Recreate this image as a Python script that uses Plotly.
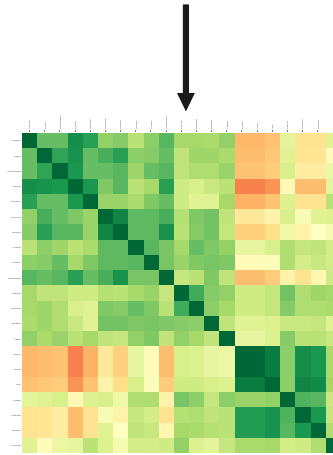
import plotly.graph_objects as go

labels = ["Hungary", "Japan", "Netherlands", "Poland", "Germany", "Denmark", "Sweden",
          "Finland", "Norway", "Switzerland", "Estonia", "Romania", "Bulgaria", "Austria",
          "France", "Spain", "Italy", "Russia", "Portugal", "Sweden", "Slovakia"]

row00 = [10.0, 8.0, 8.0, 9.2, 8.8, 7.3, 7.5, 6.6, 7.4, 8.2, 7.0, 7.0, 6.9, 7.3, 3.2, 3.2, 3.4, 5.7, 4.1, 4.1, 5.8]
row01 = [8.0, 10.0, 8.7, 9.1, 8.0, 8.4, 8.8, 7.4, 7.5, 8.0, 6.5, 7.1, 7.1, 6.9, 3.3, 3.3, 3.5, 5.8, 4.2, 4.2, 4.9]
row02 = [8.0, 8.7, 10.0, 9.0, 8.0, 8.0, 8.2, 7.1, 8.0, 8.2, 6.5, 6.8, 6.8, 7.2, 3.4, 3.4, 3.6, 6.0, 4.4, 4.4, 5.5]
row03 = [9.2, 9.1, 9.0, 10.0, 9.0, 7.6, 8.2, 6.6, 7.0, 8.8, 6.2, 6.0, 6.3, 6.6, 2.3, 2.3, 2.6, 4.8, 3.3, 3.3, 5.6]
row04 = [8.8, 8.0, 8.0, 9.0, 10.0, 7.2, 7.2, 6.9, 7.6, 8.0, 6.2, 5.8, 5.8, 7.0, 3.1, 3.1, 3.4, 5.9, 4.1, 4.1, 6.6]
row05 = [7.3, 8.4, 8.0, 7.6, 7.2, 10.0, 9.4, 8.1, 8.1, 8.4, 6.7, 7.6, 7.8, 6.5, 4.3, 4.3, 4.6, 6.0, 5.2, 5.8, 5.9]
row06 = [7.5, 8.8, 8.2, 8.2, 7.2, 9.4, 10.0, 8.1, 8.1, 9.1, 6.6, 7.5, 7.8, 6.4, 3.7, 3.7, 4.0, 5.4, 4.6, 5.0, 5.3]
row07 = [6.6, 7.4, 7.1, 6.6, 6.9, 8.1, 8.1, 10.0, 8.2, 7.7, 7.0, 8.0, 7.6, 7.3, 5.6, 5.6, 6.0, 6.8, 6.4, 6.5, 6.1]
row08 = [7.4, 7.5, 8.0, 7.0, 7.6, 8.1, 8.1, 8.2, 10.0, 7.7, 7.2, 7.6, 7.7, 7.6, 4.9, 4.9, 5.1, 6.8, 6.1, 6.3, 6.1]
row09 = [8.2, 8.0, 8.2, 8.8, 8.0, 8.4, 9.1, 7.7, 7.7, 10.0, 6.4, 6.6, 7.6, 6.5, 3.3, 3.3, 3.6, 4.6, 4.1, 4.7, 6.2]
row10 = [7.0, 6.5, 6.5, 6.2, 6.2, 6.7, 6.6, 7.0, 7.2, 6.4, 10.0, 8.5, 7.5, 7.3, 6.2, 6.2, 6.4, 7.8, 6.8, 7.1, 7.0]
row11 = [7.0, 7.1, 6.8, 6.0, 5.8, 7.6, 7.5, 8.0, 7.6, 6.6, 8.5, 10.0, 7.4, 7.0, 6.2, 6.2, 6.4, 7.5, 6.8, 6.8, 6.9]
row12 = [6.9, 7.1, 6.8, 6.3, 5.8, 7.8, 7.8, 7.6, 7.7, 7.6, 7.5, 7.4, 10.0, 6.5, 5.8, 5.8, 5.9, 6.3, 6.3, 6.4, 5.8]
row13 = [7.3, 6.9, 7.2, 6.6, 7.0, 6.5, 6.4, 7.3, 7.6, 6.5, 7.3, 7.0, 6.5, 10.0, 5.6, 5.6, 5.9, 7.5, 6.6, 6.6, 6.3]
row14 = [3.2, 3.3, 3.4, 2.3, 3.1, 4.3, 3.7, 5.6, 4.9, 3.3, 6.0, 5.9, 5.6, 5.5, 10.0, 10.0, 9.6, 7.4, 9.2, 9.0, 6.9]
row15 = [3.2, 3.3, 3.4, 2.3, 3.1, 4.3, 3.7, 5.6, 4.9, 3.3, 6.0, 5.9, 5.6, 5.5, 10.0, 10.0, 9.6, 7.4, 9.2, 9.0, 6.9]
row16 = [3.4, 3.5, 3.6, 2.6, 3.4, 4.6, 4.0, 6.0, 5.1, 3.6, 6.2, 6.2, 6.0, 5.9, 9.6, 9.6, 10.0, 7.4, 9.4, 9.3, 7.0]
row17 = [5.7, 5.8, 6.0, 4.8, 5.9, 6.0, 5.4, 6.8, 6.8, 4.6, 7.7, 7.4, 6.4, 7.4, 7.2, 7.2, 7.3, 10.0, 8.3, 8.2, 6.3]
row18 = [4.1, 4.2, 4.4, 3.3, 4.1, 5.2, 4.6, 6.4, 6.1, 4.1, 6.7, 6.8, 6.5, 6.6, 8.9, 8.9, 9.1, 8.3, 10.0, 9.0, 6.4]
row19 = [4.1, 4.2, 4.4, 3.3, 4.1, 5.8, 5.0, 6.5, 6.3, 4.7, 7.0, 6.9, 6.7, 6.6, 8.9, 8.9, 9.1, 8.2, 9.0, 10.0, 6.8]
row20 = [5.8, 4.9, 5.5, 5.6, 6.6, 5.9, 5.3, 6.1, 6.1, 6.2, 7.3, 5.9, 5.7, 6.4, 6.9, 6.9, 7.0, 6.1, 6.2, 6.8, 10.0]

rows = [row00, row01, row02, row03, row04, row05, row06, row07, row08, row09, row10,
        row11, row12, row13, row14, row15, row16, row17, row18, row19, row20]

palette = ["#a50026", "#d73027", "#f46d43", "#fdae61", "#fee08b", "#ffffbf",
           "#d9ef8b", "#a6d96a", "#66bd63", "#1a9850", "#006837"]
scale = [[i / 10, c] for i, c in enumerate(palette)]

W, H = 333, 455
L, T, B = 21.5, 133, 1.75
PW, PH = W - L, H - T - B


def px(x):
    return (x - L) / PW


def py(y):
    return 1 - (y - T) / PH


fig = go.Figure(go.Heatmap(z=rows, x=list(range(21)), y=list(range(21)), zmin=0, zmax=10,
                           colorscale=scale, showscale=False, xgap=0, ygap=0, hoverinfo="skip"))

tick_font = dict(family="Liberation Sans", size=2.5, color="#555555")
fig.update_layout(
    width=W, height=H, margin=dict(l=L, r=0, t=T, b=B, pad=0),
    paper_bgcolor="white", plot_bgcolor="white",
    xaxis=dict(side="top", range=[-0.5, 20.0], tickmode="array", tickvals=list(range(21)),
               ticktext=labels, tickangle=-90, tickfont=tick_font, ticks="outside", ticklen=2.5,
               tickwidth=0.8, tickcolor="#777777", showgrid=False, zeroline=False, showline=False),
    yaxis=dict(range=[20.5, -0.5], tickmode="array", tickvals=list(range(21)),
               ticktext=labels, tickfont=tick_font, ticks="", showgrid=False, zeroline=False,
               showline=False),
    shapes=[
        dict(type="line", xref="paper", yref="paper", x0=px(185.7), x1=px(185.7), y0=py(4.3), y1=py(96),
             line=dict(color="#1a1a1a", width=6.2)),
        dict(type="path", xref="paper", yref="paper", fillcolor="#1a1a1a", line=dict(width=0),
             path=f"M {px(176.7)} {py(93)} L {px(194.7)} {py(93)} L {px(185.7)} {py(111.5)} Z"),
    ],
)

fig.write_html("out.html", config=dict(displayModeBar=False),
               post_script="document.body.style.margin='0';document.body.style.overflow='hidden';"
                           "document.querySelector('.plotly-graph-div').style.filter='blur(0.5px)';")
